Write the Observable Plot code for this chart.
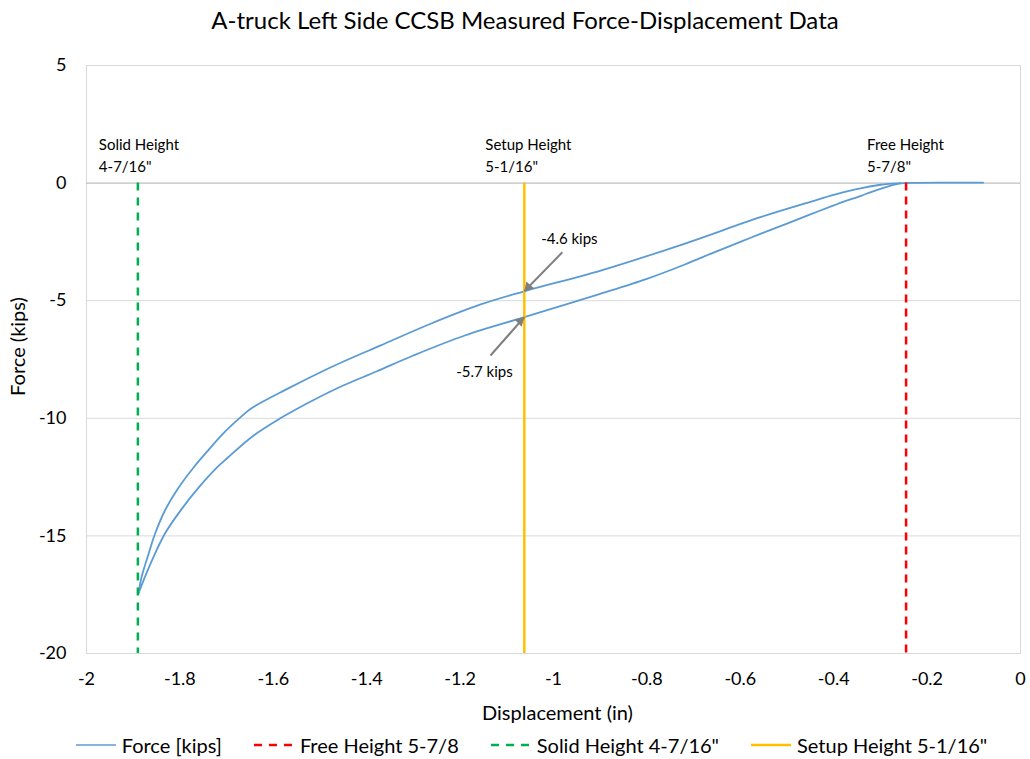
<!DOCTYPE html>
<html>
<head>
<meta charset="utf-8">
<script src="https://cdn.jsdelivr.net/npm/d3@7"></script>
<script src="https://cdn.jsdelivr.net/npm/@observablehq/plot@0.6"></script>
<style>
  body { margin: 0; background: #fff; font-family: Lato, "Open Sans", sans-serif; color: #000; }
  #title { height: 40px; line-height: 40px; text-align: center; font-size: 24px; padding-left: 20px; }
  #legend { height: 29px; display: flex; justify-content: center; align-items: center; gap: 32px; font-size: 20px; padding-left: 33px; }
  #legend .item { display: flex; align-items: center; gap: 6px; }
  #chart svg { display: block; }
</style>
</head>
<body>
<div id="title">A-truck Left Side CCSB Measured Force-Displacement Data</div>
<div id="chart"></div>
<div id="legend"></div>
<script>
// Compression branch: from free length down to solid (displacement in inches, force in kips)
const loadX = [-0.08, -0.15, -0.22, -0.25, -0.27, -0.29, -0.32, -0.343, -0.38, -0.40, -0.45, -0.50, -0.557, -0.60, -0.66, -0.72, -0.80, -0.90, -0.98, -1.0625, -1.19, -1.30, -1.378, -1.463, -1.527, -1.585, -1.642, -1.699, -1.721, -1.760, -1.796, -1.832, -1.860, -1.878, -1.889];
const loadF = [0.02, 0.02, 0.01, 0.0, -0.06, -0.18, -0.38, -0.55, -0.8, -0.95, -1.33, -1.72, -2.16, -2.5, -2.98, -3.47, -4.07, -4.71, -5.2, -5.7, -6.48, -7.33, -8.0, -8.72, -9.36, -10.0, -10.73, -11.7, -12.1, -12.95, -13.85, -14.9, -16.05, -16.9, -17.46];

// Release branch: from solid back up to free length
const unloadX = [-1.889, -1.882, -1.867, -1.853, -1.8315, -1.803, -1.771, -1.739, -1.709, -1.667, -1.649, -1.57, -1.50, -1.44, -1.37, -1.263, -1.156, -1.0625, -0.899, -0.72, -0.557, -0.45, -0.40, -0.343, -0.30, -0.257];
const unloadF = [-17.46, -16.75, -15.76, -14.9, -13.9, -12.95, -12.1, -11.35, -10.68, -9.9, -9.6, -8.75, -8.05, -7.5, -6.9, -5.98, -5.16, -4.6, -3.72, -2.58, -1.45, -0.8, -0.5, -0.22, -0.07, 0.0];

// Reference heights
const refNames = ["Free Height 5-7/8", "Solid Height 4-7/16\"", "Setup Height 5-1/16\""];
const refLabels = ["Free Height\n5-7/8\"", "Solid Height\n4-7/16\"", "Setup Height\n5-1/16\""];
const refX = [-0.245, -1.89, -1.0625];
const refColors = ["#FF0000", "#00B050", "#FFC000"];
const refDash = ["8,6", "8,7", null];

// Callouts at the setup height
const calloutX = [-1.0625, -1.0625];
const calloutF = [-4.6, -5.7];
const calloutTailX = [-0.981, -1.135];
const calloutTailF = [-2.94, -7.33];

const xTicks = [-2, -1.8, -1.6, -1.4, -1.2, -1, -0.8, -0.6, -0.4, -0.2, 0];
const yTicks = [5, 0, -5, -10, -15, -20];

const curve = [
  ...loadX.map((x, i) => ({x, f: loadF[i], branch: "load"})),
  ...unloadX.map((x, i) => ({x, f: unloadF[i], branch: "unload"}))
];
const refs = refX.map((x, i) => ({x, label: refLabels[i], name: refNames[i], color: refColors[i], dash: refDash[i]}));
const callouts = calloutX.map((x, i) => ({x, f: calloutF[i], tx: calloutTailX[i], tf: calloutTailF[i]}));

const fmt = d => String(d);
const curveColor = "#5B9BD5";
const arrowColor = "#7F7F7F";

const refMarks = refs.map(r => Plot.ruleX([r], {
  x: "x", y1: 0, y2: -20, stroke: r.color, strokeWidth: 2.5,
  strokeDasharray: r.dash ?? undefined
}));

// Filled arrow heads: a rotated triangle pulled back so its tip sits on the value
const headMarks = [
  Plot.dot([callouts[0]], {x: "x", y: "f", symbol: "triangle", r: 3.8, fill: arrowColor, rotate: 222, dx: 3.9, dy: -4.2}),
  Plot.dot([callouts[1]], {x: "x", y: "f", symbol: "triangle", r: 3.8, fill: arrowColor, rotate: 46, dx: -4.1, dy: 3.9})
];

const chart = Plot.plot({
  width: 1030,
  height: 690,
  marginTop: 25,
  marginBottom: 77,
  marginLeft: 86,
  marginRight: 10,
  style: {fontFamily: "Lato, 'Open Sans', sans-serif", fontSize: "18px", color: "#000", background: "#fff"},
  x: {domain: [-2, 0]},
  y: {domain: [-20, 5]},
  marks: [
    Plot.gridY(yTicks.filter(d => d !== 0), {stroke: "#D9D9D9", strokeOpacity: 1}),
    Plot.frame({stroke: "#D9D9D9"}),
    Plot.ruleY([0], {stroke: "#BFBFBF", strokeWidth: 1.2}),
    Plot.axisX({ticks: xTicks, tickFormat: fmt, tickSize: 0, tickPadding: 19, label: null}),
    Plot.axisY({ticks: yTicks, tickFormat: fmt, tickSize: 0, tickPadding: 20, label: null}),
    Plot.line(curve, {x: "x", y: "f", z: "branch", stroke: curveColor, strokeWidth: 1.8, curve: "catmull-rom"}),
    ...refMarks,
    Plot.text(refs, {x: "x", y: 0, text: "label", textAnchor: "start", lineAnchor: "bottom", dx: -39, dy: -11, fontSize: 15, lineHeight: 1.45}),
    Plot.link(callouts, {x1: "tx", y1: "tf", x2: "x", y2: "f", stroke: arrowColor, strokeWidth: 2}),
    ...headMarks,
    Plot.text([callouts[0]], {x: "tx", y: "tf", text: d => `${d.f} kips`, dx: 7, dy: -13, fontSize: 15}),
    Plot.text([callouts[1]], {x: "tx", y: "tf", text: d => `${d.f} kips`, dx: -6, dy: 17, fontSize: 15}),
    Plot.text(["Displacement (in)"], {frameAnchor: "bottom", lineAnchor: "middle", textAnchor: "middle", dy: 60, dx: 4, fontSize: 20}),
    Plot.text(["Force (kips)"], {frameAnchor: "left", textAnchor: "middle", lineAnchor: "middle", rotate: -90, dx: -68, dy: -13, fontSize: 20})
  ]
});
document.getElementById("chart").append(chart);

// Legend
const legendItems = [
  {name: "Force [kips]", color: curveColor, dash: null, width: 1.5},
  ...refs.map(r => ({name: r.name, color: r.color, dash: r.dash ? "8,7" : null, width: 2.5}))
];
const legend = document.getElementById("legend");
for (const it of legendItems) {
  const span = document.createElement("span");
  span.className = "item";
  span.innerHTML = `<svg width="40" height="10"><line x1="0" x2="40" y1="5" y2="5" stroke="${it.color}" stroke-width="${it.width}" ${it.dash ? `stroke-dasharray="${it.dash}"` : ""}/></svg><span>${it.name.replace(/"/g, "&quot;")}</span>`;
  legend.append(span);
}
</script>
</body>
</html>
